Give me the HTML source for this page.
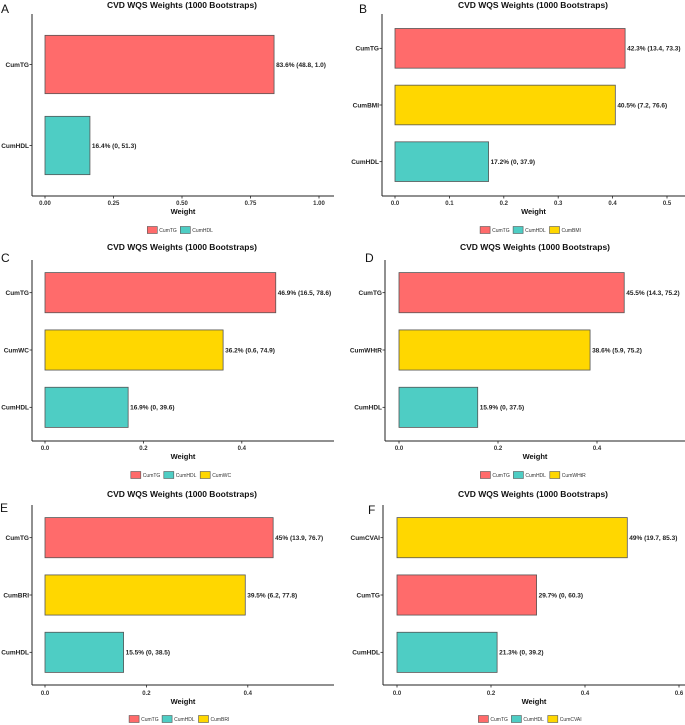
<!DOCTYPE html>
<html><head><meta charset="utf-8"><style>
html,body{margin:0;padding:0;background:#fff;}
svg{display:block;font-family:"Liberation Sans",Arial,sans-serif;}
</style></head><body>
<svg id="fig" width="685" height="725" viewBox="0 0 685 725" xmlns="http://www.w3.org/2000/svg"></svg>
<script>
// Panel data (top-to-bottom category order)
const catsA = ["CumTG","CumHDL"];
const valsA = [0.836,0.164];
const lblsA = ["83.6% (48.8, 1.0)","16.4% (0, 51.3)"];
const ticksA = [0,0.25,0.5,0.75,1.0];
const tickLblA = ["0.00","0.25","0.50","0.75","1.00"];
const legA = ["CumTG","CumHDL"];

const catsB = ["CumTG","CumBMI","CumHDL"];
const valsB = [0.423,0.405,0.172];
const lblsB = ["42.3% (13.4, 73.3)","40.5% (7.2, 76.6)","17.2% (0, 37.9)"];
const ticksB = [0,0.1,0.2,0.3,0.4,0.5];
const tickLblB = ["0.0","0.1","0.2","0.3","0.4","0.5"];
const legB = ["CumTG","CumHDL","CumBMI"];

const catsC = ["CumTG","CumWC","CumHDL"];
const valsC = [0.469,0.362,0.169];
const lblsC = ["46.9% (16.5, 78.6)","36.2% (0.6, 74.9)","16.9% (0, 39.6)"];
const ticksC = [0,0.2,0.4];
const tickLblC = ["0.0","0.2","0.4"];
const legC = ["CumTG","CumHDL","CumWC"];

const catsD = ["CumTG","CumWHtR","CumHDL"];
const valsD = [0.455,0.386,0.159];
const lblsD = ["45.5% (14.3, 75.2)","38.6% (5.9, 75.2)","15.9% (0, 37.5)"];
const ticksD = [0,0.2,0.4];
const tickLblD = ["0.0","0.2","0.4"];
const legD = ["CumTG","CumHDL","CumWHtR"];

const catsE = ["CumTG","CumBRI","CumHDL"];
const valsE = [0.45,0.395,0.155];
const lblsE = ["45% (13.9, 76.7)","39.5% (6.2, 77.8)","15.5% (0, 38.5)"];
const ticksE = [0,0.2,0.4];
const tickLblE = ["0.0","0.2","0.4"];
const legE = ["CumTG","CumHDL","CumBRI"];

const catsF = ["CumCVAI","CumTG","CumHDL"];
const valsF = [0.49,0.297,0.213];
const lblsF = ["49% (19.7, 85.3)","29.7% (0, 60.3)","21.3% (0, 39.2)"];
const ticksF = [0,0.2,0.4,0.6];
const tickLblF = ["0.0","0.2","0.4","0.6"];
const legF = ["CumTG","CumHDL","CumCVAI"];

const NS="http://www.w3.org/2000/svg";
const svg=document.getElementById('fig');
function colorOf(c){ if(c==="CumTG") return "#ff6b6b"; if(c==="CumHDL") return "#4ecdc4"; return "#ffd700"; }
function mk(tag,attrs,parent,text){
  const e=document.createElementNS(NS,tag);
  for(const k in attrs) e.setAttribute(k,attrs[k]);
  if(text!==undefined) e.textContent=text;
  (parent||svg).appendChild(e); return e;
}
function panel(letter,g,cats,vals,lbls,ticks,tickLbls,legs){
  const grp=mk('g',{});
  
  
  const xs=v=>g.x0+v*g.pxPerUnit;
  const t=mk('text',{x:g.cx,y:g.titleY,'font-size':8.5,'font-weight':'bold','text-anchor':'middle',fill:'#111'},grp,'CVD WQS Weights (1000 Bootstraps)');
  
  
  const L=mk('text',{x:g.letterX,y:g.letterY,'font-size':12,fill:'#111'},grp,letter);
  
  
  // axes
  const ay=mk('line',{x1:g.axisX,y1:g.top,x2:g.axisX,y2:g.bottom,stroke:'#222','stroke-width':1},grp);
  
  
  const ax=mk('line',{x1:g.axisX,y1:g.bottom,x2:g.right,y2:g.bottom,stroke:'#222','stroke-width':1},grp);
  
  
  ticks.forEach((tv,i)=>{
    const x=xs(tv);
    mk('line',{x1:x,y1:g.bottom,x2:x,y2:g.bottom+2.5,stroke:'#222','stroke-width':0.8},grp);
    const tl=mk('text',{x:x,y:g.tickY,'font-size':6,'font-weight':'bold','text-anchor':'middle',fill:'#333'},grp,tickLbls[i]);
    
    
  });
  const xt=mk('text',{x:(g.axisX+g.right)/2,y:g.weightY,'font-size':7.5,'font-weight':'bold','text-anchor':'middle',fill:'#111'},grp,'Weight');
  
  
  // bars
  const n=cats.length;
  const band=(g.barsBottom-g.barsTop)/n;
  const bh=band*g.barFrac;
  cats.forEach((c,i)=>{
    const yc=g.barsTop+band*(i+0.5);
    const y=yc-bh/2;
    const b=mk('rect',{x:xs(0),y:y,width:xs(vals[i])-xs(0),height:bh,fill:colorOf(c),stroke:'#555','stroke-width':0.8},grp);
    
    
    mk('line',{x1:g.axisX-2.5,y1:yc,x2:g.axisX,y2:yc,stroke:'#222','stroke-width':0.8},grp);
    const cl=mk('text',{x:g.axisX-3,y:yc+2.3,'font-size':6.5,'font-weight':'bold','text-anchor':'end',fill:'#222'},grp,c);
    
    
    const vl=mk('text',{x:xs(vals[i])+2,y:yc+2.3,'font-size':6.5,'font-weight':'bold',fill:'#222'},grp,lbls[i]);
    
    
  });
  // legend
  const itemW=legs.map(s=>12+s.length*3.4+4);
  const tot=itemW.reduce((a,b)=>a+b,0);
  let lx=g.legCx-tot/2;
  legs.forEach((s,i)=>{
    const k=mk('rect',{x:lx,y:g.legY-3.5,width:10,height:7,fill:colorOf(s),stroke:'#555','stroke-width':0.6},grp);
    
    
    const lt=mk('text',{x:lx+12,y:g.legY+1.8,'font-size':5,fill:'#333'},grp,s);
    
    
    lx+=itemW[i];
  });
}
panel('A',{cx:182,titleY:8,letterX:1,letterY:13,axisX:32,top:14,bottom:196,right:334,x0:45,pxPerUnit:274,
  barsTop:24,barsBottom:186,barFrac:0.72,tickY:205,weightY:214,legY:230,legCx:182},catsA,valsA,lblsA,ticksA,tickLblA,legA);
panel('B',{cx:533,titleY:8,letterX:359,letterY:13,axisX:382,top:14,bottom:196,right:685,x0:395,pxPerUnit:544,
  barsTop:20,barsBottom:190,barFrac:0.7,tickY:205,weightY:214,legY:230,legCx:533},catsB,valsB,lblsB,ticksB,tickLblB,legB);
panel('C',{cx:182,titleY:250,letterX:1,letterY:262,axisX:32,top:260,bottom:441,right:334,x0:45,pxPerUnit:492,
  barsTop:264,barsBottom:436,barFrac:0.7,tickY:450,weightY:459,legY:475,legCx:182},catsC,valsC,lblsC,ticksC,tickLblC,legC);
panel('D',{cx:535,titleY:250,letterX:365,letterY:262,axisX:385,top:260,bottom:441,right:685,x0:399,pxPerUnit:495,
  barsTop:264,barsBottom:436,barFrac:0.7,tickY:450,weightY:459,legY:475,legCx:535},catsD,valsD,lblsD,ticksD,tickLblD,legD);
panel('E',{cx:182,titleY:497,letterX:0,letterY:512,axisX:32,top:505,bottom:685,right:334,x0:45,pxPerUnit:507,
  barsTop:509,barsBottom:681,barFrac:0.7,tickY:695,weightY:704,legY:719,legCx:182},catsE,valsE,lblsE,ticksE,tickLblE,legE);
panel('F',{cx:533,titleY:497,letterX:368,letterY:514,axisX:383,top:505,bottom:685,right:685,x0:397,pxPerUnit:470,
  barsTop:509,barsBottom:681,barFrac:0.7,tickY:695,weightY:704,legY:719,legCx:533},catsF,valsF,lblsF,ticksF,tickLblF,legF);
</script>
</body></html>
